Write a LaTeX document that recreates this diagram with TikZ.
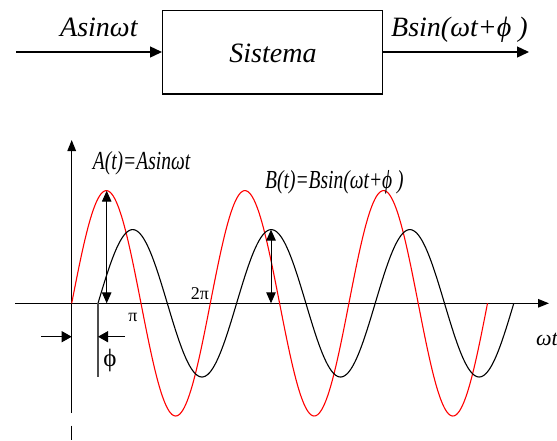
\documentclass[tikz,border=0pt]{standalone}
\usepackage{fontspec}
\setmainfont{Liberation Serif}
\usetikzlibrary{arrows.meta}
\tikzset{
  lbl/.style={inner sep=0pt, font=\itshape\fontsize{28}{30}\selectfont},
  clbl/.style={inner sep=0pt, font=\itshape\fontsize{26}{28}\selectfont},
  num/.style={inner sep=0pt, font=\fontsize{18}{20}\selectfont},
  tri/.style={-{Triangle[length=12pt,width=11pt]}},
  ptri/.style={-{Triangle[length=10pt,width=11pt]}},
  dtri/.style={{Triangle[length=11pt,width=9.5pt]}-{Triangle[length=11pt,width=9.5pt]}},
  ln/.style={line width=1.4pt},
}
\begin{document}
\begin{tikzpicture}[x=1pt,y=-1pt]
\useasboundingbox (0,0) rectangle (557,440);
% block diagram
\node[draw, ln, minimum width=220pt, minimum height=83.3pt, inner sep=0pt] (box) at (272.7,52.3) {};
\node[lbl, anchor=base] (sis) at (273,62) {Sistema};
\coordinate (in) at (16,52);
\coordinate (out) at (529,52);
\draw[ln, tri] (in) -- (in -| box.west);
\draw[ln, tri] (out -| box.east) -- (out);
\node[lbl, anchor=base west] (xin) at (60,36) {Asinωt};
\node[lbl, anchor=base west] (xout) at (391,36.5) {Bsin(ωt+ϕ )};
% axes
\coordinate (hx0) at (15,303.3);
\coordinate (hx1) at (549,303.3);
\coordinate (vy0) at (71.7,413);
\coordinate (vy1) at (71.7,140);
\coordinate (vd0) at (71.7,425.5);
\coordinate (vd1) at (71.7,440);
\draw[line width=1.3pt, -{Triangle[length=11pt,width=8.5pt]}] (hx0) -- (hx1);
\draw[line width=1.3pt, -{Triangle[length=11pt,width=8.5pt]}] (vy0) -- (vy1);
\draw[line width=1.3pt] (vd0) -- (vd1);
% curves
\draw[red, line width=1.1pt] plot[domain=71.7:487.5, samples=300, smooth] (\x, {303.3-112.7*sin((\x-71.7)*2.5974)});
\draw[black, line width=1.1pt] plot[domain=98:513.8, samples=300, smooth] (\x, {303.3-73.7*sin((\x-98)*2.5974)});
% amplitude arrows
\coordinate (a0) at (106.7,303.3);
\coordinate (a1) at (106.7,190.7);
\coordinate (b0) at (271,303.3);
\coordinate (b1) at (271,229.6);
\draw[line width=1pt, dtri] (a0) -- (a1);
\draw[line width=1pt, dtri] (b0) -- (b1);
% phase marker
\coordinate (p0) at (98,303.3);
\coordinate (p1) at (98,377);
\draw[line width=1.2pt, black!70] (p0) -- (p1);
\coordinate (l0) at (41,336.7);
\coordinate (l1) at (71.7,336.7);
\coordinate (r0) at (125,336.7);
\coordinate (r1) at (98,336.7);
\draw[line width=1.2pt, ptri] (l0) -- (l1);
\draw[line width=1.2pt, ptri] (r0) -- (r1);
\node[inner sep=0pt, font=\fontsize{25}{27}\selectfont] (phi) at (110,360) {ϕ};
% labels
\node[num] (pi) at (133,317) {π};
\node[num] (twopi) at (200,294) {2π};
\node[inner sep=0pt, anchor=base west, font=\itshape\fontsize{22}{24}\selectfont] (wt) at (536,345) {ωt};
\node[clbl, anchor=base west] (at) at (92.7,169) {\scalebox{0.75}[1]{A(t)=Asinωt}};
\node[clbl, anchor=base west] (bt) at (265,188) {\scalebox{0.75}[1]{B(t)=Bsin(ωt+ϕ )}};
\end{tikzpicture}
\end{document}
